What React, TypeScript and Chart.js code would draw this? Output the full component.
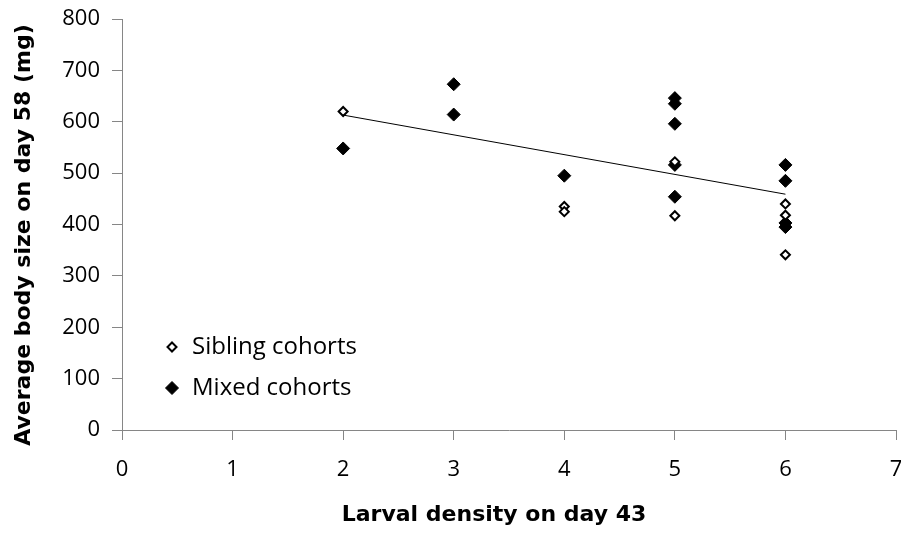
import React, { useEffect, useRef } from "react";
import { Chart, registerables } from "chart.js";

Chart.register(...registerables);

const xTicks = [0, 1, 2, 3, 4, 5, 6, 7];
const yTicks = [0, 100, 200, 300, 400, 500, 600, 700, 800];

const siblingX = [2, 4, 4, 5, 5, 6, 6, 6];
const siblingY = [620, 435, 425, 522, 417, 440, 418, 341];

const mixedX = [2, 3, 3, 4, 5, 5, 5, 5, 5, 6, 6, 6, 6];
const mixedY = [548, 673, 614, 495, 646, 635, 596, 516, 454, 516, 485, 403, 395];

const trendX = [2, 6];
const trendY = [613, 459];

const legendLabels = ["Sibling cohorts", "Mixed cohorts"];
const xTitle = "Larval density on day 43";
const yTitle = "Average body size on day 58 (mg)";

const tickFont = { family: "'Open Sans', sans-serif", size: 22 };
const titleFont = "bold 22px 'DejaVu Sans', sans-serif";
const legendFont = "24px 'Open Sans', sans-serif";
const axisColor = "#868686";

export default function App() {
  const ref = useRef<HTMLCanvasElement | null>(null);

  useEffect(() => {
    document.body.style.margin = "0";
    const canvas = ref.current;
    if (!canvas) return;

    const overlay = {
      id: "overlay",
      afterDraw(chart: any) {
        const { ctx } = chart;
        ctx.save();
        ctx.fillStyle = "#000";
        ctx.font = titleFont;
        ctx.textAlign = "center";
        ctx.textBaseline = "middle";
        ctx.fillText(xTitle, 494, 515);
        ctx.translate(24, 235);
        ctx.rotate(-Math.PI / 2);
        ctx.fillText(yTitle, 0, 0);
        ctx.restore();

        ctx.save();
        const items = [
          { ds: chart.data.datasets[0], y: 347 },
          { ds: chart.data.datasets[1], y: 388 },
        ];
        items.forEach((it, i) => {
          const cx = 172;
          const r = it.ds.pointRadius;
          ctx.beginPath();
          ctx.moveTo(cx, it.y - r);
          ctx.lineTo(cx + r, it.y);
          ctx.lineTo(cx, it.y + r);
          ctx.lineTo(cx - r, it.y);
          ctx.closePath();
          ctx.fillStyle = it.ds.pointBackgroundColor;
          ctx.fill();
          ctx.lineWidth = it.ds.pointBorderWidth;
          ctx.strokeStyle = it.ds.pointBorderColor;
          ctx.stroke();
          ctx.fillStyle = "#000";
          ctx.font = legendFont;
          ctx.textAlign = "left";
          ctx.textBaseline = "middle";
          ctx.fillText(legendLabels[i], 192, it.y);
        });
        ctx.restore();
      },
    };

    const chart = new Chart(canvas, {
      type: "scatter",
      data: {
        datasets: [
          {
            label: legendLabels[0],
            data: siblingX.map((x, i) => ({ x, y: siblingY[i] })),
            pointStyle: "rectRot",
            pointRadius: 4.5,
            pointBackgroundColor: "#ffffff",
            pointBorderColor: "#000000",
            pointBorderWidth: 2,
            order: 1,
          },
          {
            label: legendLabels[1],
            data: mixedX.map((x, i) => ({ x, y: mixedY[i] })),
            pointStyle: "rectRot",
            pointRadius: 6.5,
            pointBackgroundColor: "#000000",
            pointBorderColor: "#000000",
            pointBorderWidth: 1,
            order: 2,
          },
          {
            label: "trend",
            type: "line",
            data: trendX.map((x, i) => ({ x, y: trendY[i] })),
            borderColor: "#000000",
            borderWidth: 1,
            pointRadius: 0,
            showLine: true,
            fill: false,
            order: 0,
          } as any,
        ],
      },
      options: {
        animation: false,
        responsive: false,
        maintainAspectRatio: false,
        layout: { autoPadding: false, padding: { top: 19, right: 5, left: 0, bottom: 0 } },
        plugins: {
          legend: { display: false },
          tooltip: { enabled: false },
        },
        scales: {
          x: {
            type: "linear",
            min: 0,
            max: 7,
            afterBuildTicks: (s: any) => {
              s.ticks = xTicks.map((v) => ({ value: v }));
            },
            afterFit: (s: any) => {
              s.height = 103;
              s.paddingLeft = 0;
              s.paddingRight = 0;
            },
            ticks: { color: "#000", font: tickFont, padding: 17, maxRotation: 0 },
            grid: {
              display: true,
              drawOnChartArea: false,
              drawTicks: true,
              tickLength: 10,
              color: axisColor,
            },
            border: { color: axisColor, width: 1 },
          },
          y: {
            type: "linear",
            min: 0,
            max: 800,
            afterBuildTicks: (s: any) => {
              s.ticks = yTicks.map((v) => ({ value: v }));
            },
            afterFit: (s: any) => {
              s.width = 122;
              s.paddingTop = 0;
              s.paddingBottom = 0;
            },
            ticks: { color: "#000", font: tickFont, padding: 12 },
            grid: {
              display: true,
              drawOnChartArea: false,
              drawTicks: true,
              tickLength: 10,
              color: axisColor,
            },
            border: { color: axisColor, width: 1 },
          },
        },
      },
      plugins: [overlay],
    });

    return () => chart.destroy();
  }, []);

  return <canvas ref={ref} width={901} height={533} style={{ display: "block" }} />;
}
